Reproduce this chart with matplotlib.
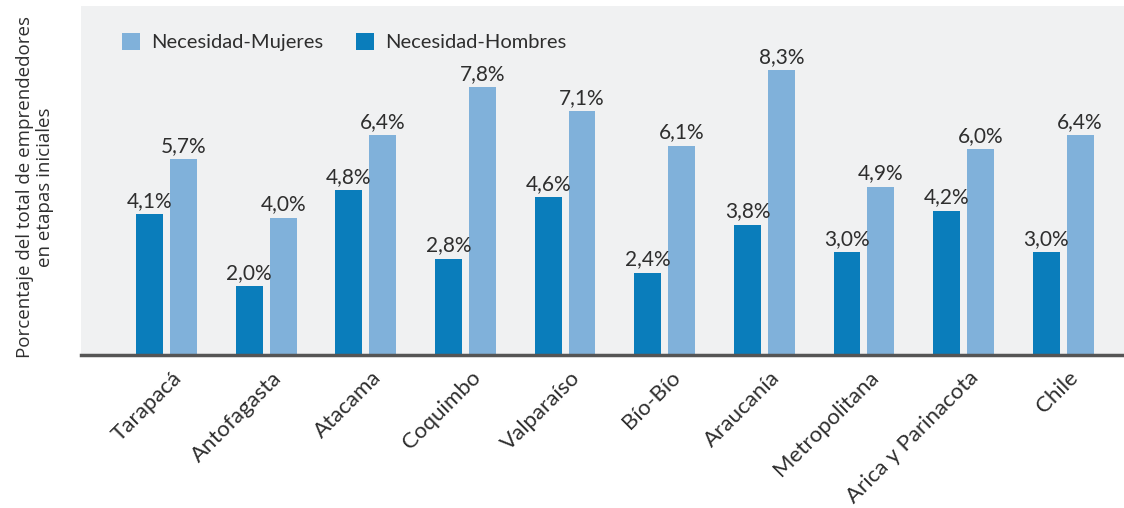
import numpy as np
import matplotlib.pyplot as plt
import matplotlib.transforms as mtransforms

plt.rcParams['font.family'] = ['Lato', 'DejaVu Sans']

regiones = ['Tarapacá', 'Antofagasta', 'Atacama', 'Coquimbo', 'Valparaíso',
            'Bío-Bío', 'Araucanía', 'Metropolitana', 'Arica y Parinacota', 'Chile']
hombres = [4.1, 2.0, 4.8, 2.8, 4.6, 2.4, 3.8, 3.0, 4.2, 3.0]
mujeres = [5.7, 4.0, 6.4, 7.8, 7.1, 6.1, 8.3, 4.9, 6.0, 6.4]

color_h = '#0a7dbb'
color_m = '#80b1da'
text_color = '#2e2e2e'

fig = plt.figure(figsize=(11.24, 5.08), dpi=100)
ax = fig.add_axes([0.072, 0.301, 0.928, 0.687])
ax.set_facecolor('#f0f1f2')

x = np.arange(len(regiones))
w = 0.27
off = 0.17
bh = ax.bar(x - off, hombres, w, color=color_h, label='Necesidad-Hombres')
bm = ax.bar(x + off, mujeres, w, color=color_m, label='Necesidad-Mujeres')

for xi, v in zip(x - off, hombres):
    ax.text(xi, v + 0.1, f'{v:.1f}%'.replace('.', ','), ha='center', va='bottom',
            fontsize=15, color=text_color)
for xi, v in zip(x + off, mujeres):
    ax.text(xi, v + 0.1, f'{v:.1f}%'.replace('.', ','), ha='center', va='bottom',
            fontsize=15, color=text_color)

ax.set_xlim(-0.86, 9.61)
ax.set_ylim(0, 10.17)
ax.set_yticks([])
ax.set_xticks(x)
ax.set_xticklabels(regiones, rotation=45, ha='right', rotation_mode='anchor',
                   fontsize=16, color=text_color)
ax.tick_params(axis='x', length=0, pad=9)
shift = mtransforms.ScaledTranslation(5 / 100, 0, fig.dpi_scale_trans)
for lbl in ax.get_xticklabels():
    lbl.set_transform(lbl.get_transform() + shift)

for s in ['top', 'right', 'left']:
    ax.spines[s].set_visible(False)
ax.spines['bottom'].set_color('#555555')
ax.spines['bottom'].set_linewidth(2.5)

ax.legend(handles=[bm, bh], loc='upper left', ncol=2, frameon=False,
          fontsize=14.5, bbox_to_anchor=(0.022, 0.975), handlelength=0.9,
          handleheight=0.9, columnspacing=1.6, handletextpad=0.55,
          labelcolor=text_color)

fig.text(0.031, 0.632, 'Porcentaje del total de emprendedores\nen etapas iniciales',
         rotation=90, ha='center', va='center', multialignment='center',
         fontsize=13.5, color=text_color, family=['Open Sans', 'DejaVu Sans'],
         linespacing=1.15)

fig.savefig('out.png', dpi=100, facecolor='white')
